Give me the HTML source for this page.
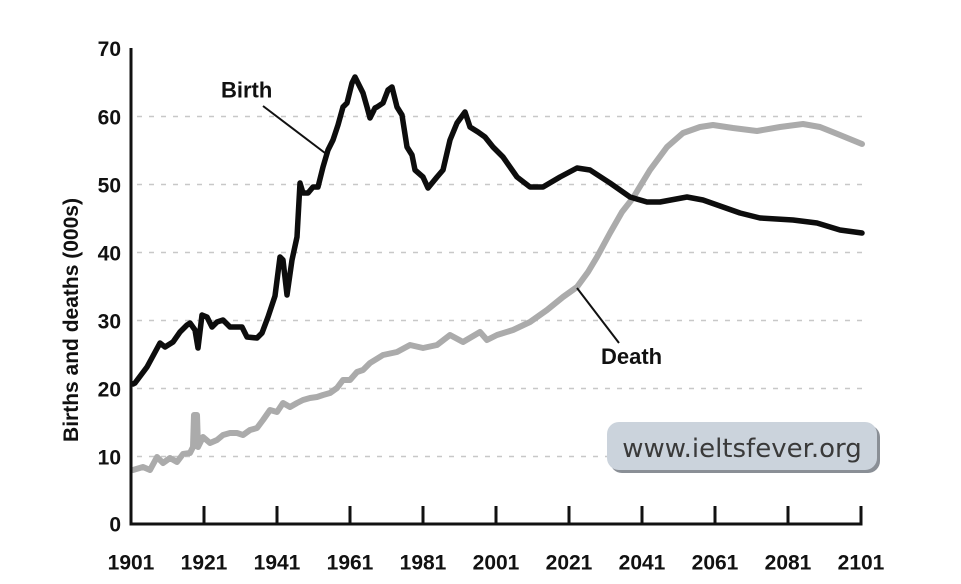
<!DOCTYPE html>
<html>
<head>
<meta charset="utf-8">
<style>
  html, body { margin: 0; padding: 0; background: #ffffff; }
  body { width: 961px; height: 584px; overflow: hidden; }
  svg { display: block; }
  .tick { font-family: "Liberation Sans", Arial, sans-serif; font-weight: bold; font-size: 21px; fill: #111; }
  .lbl { font-family: "Liberation Sans", Arial, sans-serif; font-weight: bold; font-size: 22px; fill: #111; }
  .ttl { font-family: "Liberation Sans", Arial, sans-serif; font-weight: bold; font-size: 21px; fill: #111; }
  .wm { font-family: "DejaVu Sans", "Liberation Sans", sans-serif; font-size: 26px; fill: #3a3a3a; }
</style>
</head>
<body>
<svg width="961" height="584" viewBox="0 0 961 584" xmlns="http://www.w3.org/2000/svg">
  <rect x="0" y="0" width="961" height="584" fill="#ffffff"/>

  <!-- gridlines -->
  <g stroke="#c8c8c8" stroke-width="1.5" stroke-dasharray="5 7">
    <line x1="137" y1="456.5" x2="863" y2="456.5"/>
    <line x1="137" y1="388.5" x2="863" y2="388.5"/>
    <line x1="137" y1="320.5" x2="863" y2="320.5"/>
    <line x1="137" y1="252.5" x2="863" y2="252.5"/>
    <line x1="137" y1="184.5" x2="863" y2="184.5"/>
    <line x1="137" y1="116.5" x2="863" y2="116.5"/>
  </g>

  <!-- Death series -->
  <polyline fill="none" stroke="#ababab" stroke-width="6" stroke-linejoin="round" stroke-linecap="round"
    points="133,470 143,467 150,470 157,457 163,463 170,458 177,462 183,454 190,453 193,447 194,415 197,415 198,447 203,437 210,443 217,440 223,435 230,433 237,433 243,435 250,430 257,428 263,420 270,410 277,412 283,403 290,407 297,403 303,400 310,398 317,397 323,395 330,393 337,388 343,380 350,380 357,372 363,370 370,363 383,355 397,352 410,345 423,348 437,345 450,335 463,342 480,332 487,340 497,335 513,330 530,322 547,310 563,297 577,287 588,272 597,257 610,233 622,212 633,198 650,170 667,147 683,133 700,127 713,125 733,128 757,131 780,127 803,124 820,127 840,135 862,144"/>

  <!-- Birth series -->
  <polyline fill="none" stroke="#0d0d0d" stroke-width="5.5" stroke-linejoin="round" stroke-linecap="round"
    points="133,384 135,383 147,367 160,343 165,347 173,342 180,332 187,325 190,323 195,330 198,348 202,315 207,317 212,327 217,322 223,320 230,327 242,327 247,337 257,338 262,333 268,317 275,296 280,257 283,260 287,295 292,260 297,237 300,183 303,193 308,193 313,187 318,187 323,167 328,150 333,140 338,125 343,107 347,103 352,83 355,77 358,83 363,93 367,107 370,118 375,108 377,107 383,103 388,90 392,87 397,107 402,115 407,147 412,155 415,170 423,177 428,188 437,177 443,170 450,140 457,123 465,112 470,127 478,132 485,137 493,147 503,157 517,177 530,187 543,187 560,177 577,168 590,170 610,183 630,197 647,202 660,202 687,197 703,200 740,213 760,218 793,220 817,223 840,230 862,233"/>

  <!-- leader lines -->
  <line x1="263" y1="106" x2="325" y2="153" stroke="#111" stroke-width="2"/>
  <line x1="577" y1="288" x2="619" y2="343" stroke="#111" stroke-width="2"/>

  <!-- axes -->
  <line x1="131" y1="48" x2="131" y2="525.5" stroke="#111" stroke-width="3"/>
  <line x1="129.5" y1="524" x2="862.5" y2="524" stroke="#111" stroke-width="3"/>
  <g stroke="#111" stroke-width="3">
    <line x1="204" y1="506" x2="204" y2="524"/>
    <line x1="277" y1="506" x2="277" y2="524"/>
    <line x1="350" y1="506" x2="350" y2="524"/>
    <line x1="423" y1="506" x2="423" y2="524"/>
    <line x1="496" y1="506" x2="496" y2="524"/>
    <line x1="569" y1="506" x2="569" y2="524"/>
    <line x1="642" y1="506" x2="642" y2="524"/>
    <line x1="715" y1="506" x2="715" y2="524"/>
    <line x1="788" y1="506" x2="788" y2="524"/>
    <line x1="861" y1="506" x2="861" y2="524"/>
  </g>

  <!-- y tick labels -->
  <g class="tick" text-anchor="end">
    <text x="121" y="56">70</text>
    <text x="121" y="124.5">60</text>
    <text x="121" y="192.5">50</text>
    <text x="121" y="260.5">40</text>
    <text x="121" y="328.5">30</text>
    <text x="121" y="396.5">20</text>
    <text x="121" y="464.5">10</text>
    <text x="121" y="531.5">0</text>
  </g>

  <!-- x tick labels -->
  <g class="tick" text-anchor="middle">
    <text x="131" y="569.5">1901</text>
    <text x="204" y="569.5">1921</text>
    <text x="277" y="569.5">1941</text>
    <text x="350" y="569.5">1961</text>
    <text x="423" y="569.5">1981</text>
    <text x="496" y="569.5">2001</text>
    <text x="569" y="569.5">2021</text>
    <text x="642" y="569.5">2041</text>
    <text x="715" y="569.5">2061</text>
    <text x="788" y="569.5">2081</text>
    <text x="861" y="569.5">2101</text>
  </g>

  <!-- y axis title -->
  <text class="ttl" x="78" y="320" text-anchor="middle" transform="rotate(-90 78 320)">Births and deaths (000s)</text>

  <!-- series labels -->
  <text class="lbl" x="221" y="97.5">Birth</text>
  <text class="lbl" x="601" y="364">Death</text>

  <!-- watermark -->
  <rect x="610" y="425" width="270" height="48" rx="12" ry="12" fill="#8a8f96"/>
  <rect x="607" y="422" width="270" height="48" rx="12" ry="12" fill="#cbd3dc"/>
  <text class="wm" x="742" y="457" text-anchor="middle">www.ieltsfever.org</text>
</svg>
</body>
</html>
